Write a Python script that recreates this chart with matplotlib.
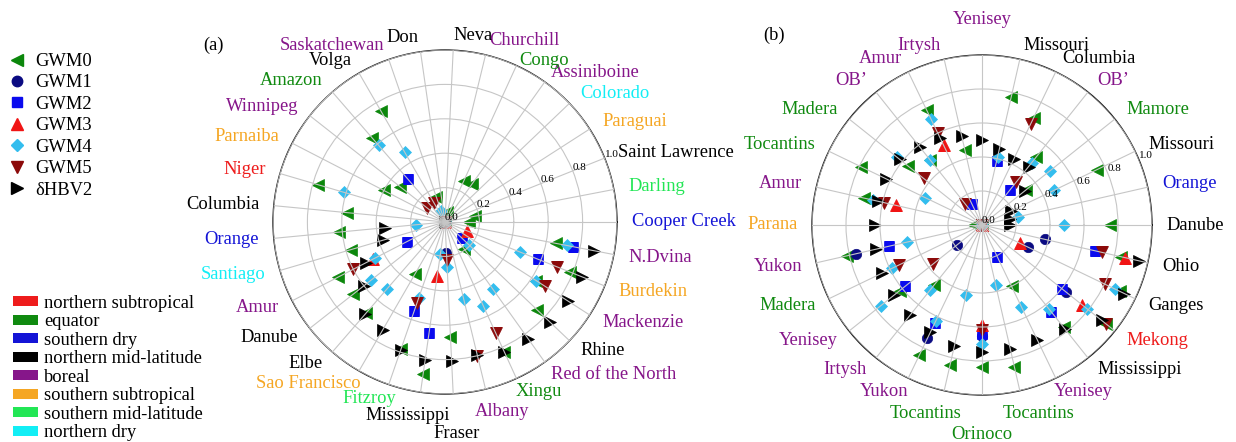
import numpy as np
import matplotlib
matplotlib.use("Agg")
import matplotlib.pyplot as plt
from matplotlib.lines import Line2D
from matplotlib.patches import Patch
from matplotlib.transforms import ScaledTranslation

plt.rcParams['font.family'] = ['Liberation Serif', 'DejaVu Serif']
FS = 13.3

# ---------------- models ----------------
models = ['GWM0', 'GWM1', 'GWM2', 'GWM3', 'GWM4', 'GWM5', 'δHBV2']
model_markers = ['<', 'o', 's', '^', 'D', 'v', '>']
model_colors = ['#0b870b', '#0b0b82', '#0a0aee', '#f01414', '#33bdee', '#8c0a0a', '#000000']
model_sizes = [8, 7.5, 7.5, 8, 6.3, 8, 8]

# ---------------- climate zones ----------------
zones = ['northern subtropical', 'equator', 'southern dry', 'northern mid-latitude',
         'boreal', 'southern subtropical', 'southern mid-latitude', 'northern dry']
zone_colors = ['#ee1c1c', '#108a10', '#1414d6', '#000000',
               '#86168a', '#f5a623', '#22e655', '#12eef5']

# ---------------- panel (a) ----------------
rivers_a = ['Cooper Creek', 'Darling', 'Saint Lawrence', 'Paraguai', 'Colorado', 'Assiniboine',
            'Congo', 'Churchill', 'Neva', 'Don', 'Saskatchewan', 'Volga', 'Amazon', 'Winnipeg',
            'Parnaiba', 'Niger', 'Columbia', 'Orange', 'Santiago', 'Amur', 'Danube', 'Elbe',
            'Sao Francisco', 'Fitzroy', 'Mississippi', 'Fraser', 'Albany', 'Xingu',
            'Red of the North', 'Rhine', 'Mackenzie', 'Burdekin', 'N.Dvina']
zone_a = ['southern dry', 'southern mid-latitude', 'northern mid-latitude', 'southern subtropical',
          'northern dry', 'boreal', 'equator', 'boreal', 'northern mid-latitude',
          'northern mid-latitude', 'boreal', 'northern mid-latitude', 'equator', 'boreal',
          'southern subtropical', 'northern subtropical', 'northern mid-latitude', 'southern dry',
          'northern dry', 'boreal', 'northern mid-latitude', 'northern mid-latitude',
          'southern subtropical', 'southern mid-latitude', 'northern mid-latitude',
          'northern mid-latitude', 'boreal', 'equator', 'boreal', 'northern mid-latitude',
          'boreal', 'southern subtropical', 'boreal']

gwm0_a = [0.14, 0.18, 0.0, 0.0, 0.0, 0.27, 0.26, 0.06, 0.0, 0.0, 0.155, 0.745, 0.65, 0.33,
          0.40, 0.77, 0.57, 0.62, 0.57, 0.70, 0.68, 0.70, 0.35, 0.78, 0.89, 0.67, 0.0, 0.83,
          0.19, 0.74, 0.63, 0.78, 0.66]
gwm1_a = [0.0] * 25 + [0.18] + [0.0] * 7
gwm2_a = [0.0, 0.0, 0.0, 0.0, 0.0, 0.0, 0.0, 0.0, 0.0, 0.0, 0.0, 0.0, 0.33, 0.0, 0.0, 0.0,
          0.0, 0.0, 0.0, 0.25, 0.0, 0.0, 0.0, 0.55, 0.65, 0.0, 0.0, 0.0, 0.0, 0.135, 0.0,
          0.58, 0.76]
gwm3_a = [0.0, 0.0, 0.0, 0.0, 0.0, 0.0, 0.0, 0.0, 0.0, 0.0, 0.0, 0.0, 0.0, 0.0, 0.0, 0.0,
          0.0, 0.0, 0.0, 0.47, 0.0, 0.0, 0.0, 0.0, 0.32, 0.0, 0.0, 0.0, 0.0, 0.0, 0.0,
          0.14, 0.0]
gwm4_a = [0.0, 0.0, 0.0, 0.0, 0.0, 0.0, 0.0, 0.0, 0.0, 0.0, 0.07, 0.47, 0.59, 0.0, 0.0, 0.61,
          0.0, 0.17, 0.0, 0.46, 0.55, 0.515, 0.0, 0.47, 0.19, 0.26, 0.46, 0.535, 0.48, 0.19,
          0.63, 0.47, 0.72]
gwm5_a = [0.0, 0.0, 0.0, 0.0, 0.0, 0.0, 0.0, 0.0, 0.0, 0.0, 0.0, 0.13, 0.0, 0.13, 0.0, 0.0,
          0.0, 0.0, 0.0, 0.60, 0.0, 0.0, 0.0, 0.50, 0.0, 0.22, 0.80, 0.71, 0.0, 0.0, 0.69,
          0.70, 0.0]
hbv_a = [0.0] * 17 + [0.35, 0.375, 0.515, 0.60, 0.71, 0.725, 0.785, 0.81, 0.81, 0.795, 0.83,
                      0.835, 0.845, 0.85, 0.86, 0.88]

# ---------------- panel (b) ----------------
rivers_b = ['Danube', 'Orange', 'Missouri', 'Mamore', 'OB’', 'Columbia', 'Missouri', 'Yenisey',
            'Irtysh', 'Amur', 'OB’', 'Madera', 'Tocantins', 'Amur', 'Parana', 'Yukon', 'Madera',
            'Yenisey', 'Irtysh', 'Yukon', 'Tocantins', 'Orinoco', 'Tocantins', 'Yenisey',
            'Mississippi', 'Mekong', 'Ganges', 'Ohio']
zone_b = ['northern mid-latitude', 'southern dry', 'northern mid-latitude', 'equator', 'boreal',
          'northern mid-latitude', 'northern mid-latitude', 'boreal', 'boreal', 'boreal',
          'boreal', 'equator', 'equator', 'boreal', 'southern subtropical', 'boreal', 'equator',
          'boreal', 'boreal', 'boreal', 'equator', 'equator', 'equator', 'boreal',
          'northern mid-latitude', 'northern subtropical', 'northern mid-latitude',
          'northern mid-latitude']

gwm0_b = [0.75, 0.0, 0.75, 0.33, 0.51, 0.70, 0.77, 0.0, 0.45, 0.75, 0.49, 0.56, 0.79, 0.71,
          0.05, 0.815, 0.0, 0.62, 0.45, 0.85, 0.845, 0.835, 0.855, 0.40, 0.77, 0.93, 0.90, 0.84]
gwm1_b = [0.0, 0.0, 0.0, 0.0, 0.0, 0.0, 0.0, 0.0, 0.0, 0.0, 0.0, 0.0, 0.0, 0.0, 0.0, 0.76,
          0.0, 0.19, 0.0, 0.74, 0.0, 0.65, 0.0, 0.0, 0.0, 0.635, 0.30, 0.38]
gwm2_b = [0.0, 0.0, 0.0, 0.0, 0.26, 0.0, 0.385, 0.0, 0.0, 0.14, 0.0, 0.0, 0.0, 0.0, 0.0, 0.56,
          0.0, 0.58, 0.0, 0.64, 0.0, 0.64, 0.0, 0.21, 0.655, 0.60, 0.0, 0.68]
gwm3_b = [0.0, 0.0, 0.0, 0.0, 0.0, 0.0, 0.0, 0.0, 0.0, 0.52, 0.0, 0.0, 0.0, 0.52, 0.0, 0.0,
          0.0, 0.0, 0.0, 0.0, 0.0, 0.59, 0.0, 0.0, 0.0, 0.755, 0.25, 0.86]
gwm4_b = [0.485, 0.22, 0.47, 0.51, 0.47, 0.0, 0.41, 0.0, 0.0, 0.69, 0.49, 0.64, 0.37, 0.66,
          0.0, 0.455, 0.585, 0.76, 0.49, 0.63, 0.42, 0.70, 0.365, 0.535, 0.63, 0.79, 0.87, 0.0]
gwm5_b = [0.0, 0.0, 0.0, 0.0, 0.32, 0.66, 0.0, 0.0, 0.0, 0.60, 0.16, 0.44, 0.0, 0.59, 0.0,
          0.0, 0.545, 0.37, 0.0, 0.0, 0.0, 0.62, 0.0, 0.0, 0.0, 0.93, 0.805, 0.725]
hbv_b = [0.165, 0.17, 0.19, 0.32, 0.44, 0.43, 0.46, 0.50, 0.54, 0.57, 0.585, 0.62, 0.63,
         0.63, 0.63, 0.64, 0.65, 0.66, 0.675, 0.70, 0.73, 0.745, 0.75, 0.75, 0.78, 0.90,
         0.93, 0.945]

series_a = [gwm0_a, gwm1_a, gwm2_a, gwm3_a, gwm4_a, gwm5_a, hbv_a]
series_b = [gwm0_b, gwm1_b, gwm2_b, gwm3_b, gwm4_b, gwm5_b, hbv_b]

r_ticks = [0.0, 0.2, 0.4, 0.6, 0.8, 1.0]
r_ticklabels = ['0.0', '0.2', '0.4', '0.6', '0.8', '1.0']

# radial nudges for crowded spoke labels
label_nudge = {'Congo': -0.05, 'Assiniboine': -0.02}

zone_color = dict(zip(zones, zone_colors))

fig = plt.figure(figsize=(12.36, 4.42), dpi=100)
W, H = 1236.0, 442.0
ax_a = fig.add_axes([273 / W, 48 / H, 344 / W, 344 / H], projection='polar')
ax_b = fig.add_axes([812 / W, 47 / H, 340 / W, 340 / H], projection='polar')


def draw_panel(ax, series, rlabel_angle):
    n = len(series[0])
    theta = np.arange(n) * 2 * np.pi / n
    for k in range(len(series)):
        ax.plot(theta, series[k], ls='none', marker=model_markers[k],
                color=model_colors[k], ms=model_sizes[k], mec=model_colors[k], mew=0.5,
                zorder=2)
    ax.set_ylim(0, 1.0)
    ax.set_xticks(theta)
    ax.set_xticklabels([])
    ax.set_rgrids(r_ticks, labels=r_ticklabels, angle=rlabel_angle, fontsize=8)
    ax.grid(True, color='#c6c6c6', lw=0.8)
    ax.set_axisbelow(False)
    ax.tick_params(axis='x', length=0, pad=0)
    ax.spines['polar'].set_color('#1a1a1a')
    ax.spines['polar'].set_linewidth(1.0)
    return theta


def label_spokes(ax, theta, names, zone_list, renderer, nudge):
    for th, name, zn in zip(theta, names, zone_list):
        c, s = np.cos(th), np.sin(th)
        r = 1.085
        if s < -0.7:
            frac = float(np.clip((1 - c / 0.6) / 2, 0, 1))
            if s < -0.96:
                r = 1.135
            if abs(c) < 0.06:
                r = 1.23
        elif abs(c) < 0.01:
            frac = 0.5
            r = 1.21
        else:
            frac = 0.0 if c > 0 else 1.0
        r += nudge.get(name, 0.0)
        t = ax.text(th, r, name, ha='left', va='center', fontsize=FS,
                    color=zone_color[zn], clip_on=False)
        w = t.get_window_extent(renderer).width
        t.set_transform(ax.transData + ScaledTranslation(-frac * w / fig.dpi, 0,
                                                         fig.dpi_scale_trans))


theta_a = draw_panel(ax_a, series_a, 21.5)
theta_b = draw_panel(ax_b, series_b, 22.5)

fig.canvas.draw()
renderer = fig.canvas.get_renderer()
label_spokes(ax_a, theta_a, rivers_a, zone_a, renderer, label_nudge)
label_spokes(ax_b, theta_b, rivers_b, zone_b, renderer, {})

fig.text(203 / W, 1 - 45 / H, '(a)', ha='left', va='center', fontsize=FS)
fig.text(763 / W, 1 - 35 / H, '(b)', ha='left', va='center', fontsize=FS)

# model legend
model_handles = [Line2D([], [], ls='none', marker=m, color=c, ms=s)
                 for m, c, s in zip(model_markers, model_colors, model_sizes)]
fig.legend(model_handles, models, loc='upper left', bbox_to_anchor=(8 / W, 1 - 53 / H),
           frameon=False, fontsize=FS, handlelength=1.0, handletextpad=0.5,
           labelspacing=0.24, borderpad=0, borderaxespad=0)

# climate zone legend
zone_handles = [Patch(facecolor=c, edgecolor='none') for c in zone_colors]
fig.legend(zone_handles, zones, loc='upper left', bbox_to_anchor=(13 / W, 1 - 295 / H),
           frameon=False, fontsize=FS, handlelength=1.33, handleheight=0.45,
           handletextpad=0.37, labelspacing=0.08, borderpad=0, borderaxespad=0)

fig.savefig('out.png', dpi=100)
